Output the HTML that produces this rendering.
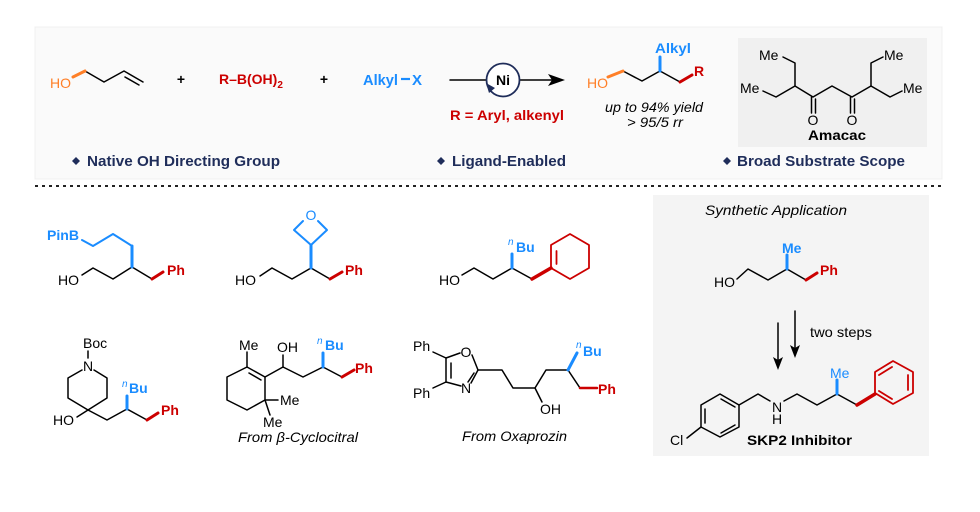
<!DOCTYPE html>
<html><head><meta charset="utf-8"><style>
html,body{margin:0;padding:0;background:#fff;}
svg{display:block;}
text{font-family:"Liberation Sans",Arial,sans-serif;}
</style></head><body>
<svg width="980" height="512" viewBox="0 0 980 512" xmlns="http://www.w3.org/2000/svg">
<rect x="0" y="0" width="980" height="512" fill="#fff"/>
<!-- top panel -->
<rect x="35" y="27" width="907" height="152" fill="#fafafa" stroke="#f0f0f0" stroke-width="1"/>
<rect x="738" y="38" width="189" height="109" fill="#f0f0f0"/>
<line x1="35" y1="186" x2="942" y2="186" stroke="#222" stroke-width="2" stroke-dasharray="3 4"/>
<!-- synthetic app box -->
<rect x="653" y="195" width="276" height="261" fill="#f4f4f4"/>

<g fill="none" stroke="#000" stroke-width="1.5" stroke-linejoin="round" stroke-linecap="round">
<!-- butenol -->
<polyline points="85,71 104,82 124,71 143,82"/>
<line x1="125" y1="77" x2="139" y2="85"/>
<!-- arrow -->
<line x1="450" y1="80" x2="487" y2="80"/>
<line x1="520" y1="80" x2="552" y2="80"/>
<!-- product -->
<polyline points="623,71 642,81 660,71 680,82"/>
<!-- amacac -->
<polyline points="783,57 795,63 795,86 776,97 763,91"/>
<polyline points="795,86 813,97 832,86 852,97 871,86 871,63 883,57"/>
<polyline points="871,86 890,97 902,91"/>
<line x1="811.5" y1="97" x2="811.5" y2="113"/>
<line x1="815.5" y1="99" x2="815.5" y2="113"/>
<line x1="850.5" y1="97" x2="850.5" y2="113"/>
<line x1="854.5" y1="99" x2="854.5" y2="113"/>
<!-- cpd1 -->
<polyline points="82,275 93,268 113,279 132,267 152,279"/>
<!-- cpd2 -->
<polyline points="260,276 272,268 292,279 311,268 330,279"/>
<!-- cpd3 -->
<polyline points="462,275 474,268 493,279 512,268 532,279"/>
<!-- cpd4 -->
<line x1="88" y1="351" x2="88" y2="358"/>
<polyline points="82,370 68,378 68,398 88,410 107,398 107,378 94,370"/>
<line x1="77" y1="417" x2="88" y2="410"/>
<polyline points="88,410 107,420 127,409 147,420"/>
<!-- cpd5 -->
<polygon points="247,367 265,377 265,400 247,410 227,400 227,377"/>
<line x1="249" y1="373" x2="261" y2="380"/>
<line x1="247" y1="352" x2="247" y2="367"/>
<line x1="265" y1="400" x2="278" y2="400"/>
<line x1="265" y1="400" x2="270" y2="415"/>
<polyline points="265,377 283,367 303,377 323,367 342,377"/>
<line x1="283" y1="367" x2="283" y2="355"/>
<!-- cpd6 oxaprozin -->
<line x1="433" y1="352" x2="446" y2="358"/>
<line x1="433" y1="388" x2="446" y2="382"/>
<polyline points="460,353 446,358 446,382 461,386"/>
<line x1="451" y1="363" x2="451" y2="378"/>
<polyline points="472,355 478,370 471,383"/>
<line x1="474" y1="373" x2="468" y2="382"/>
<polyline points="478,370 502,370 513,388 535,388 546,370 568,370 580,388"/>
<line x1="535" y1="388" x2="542" y2="402"/>
<!-- synthetic -->
<polyline points="737,279 748,269 768,280 787,269 806,280"/>
<line x1="795" y1="311" x2="795" y2="350"/>
<line x1="778" y1="323" x2="778" y2="362"/>
<!-- SKP2 -->
<polygon points="701,405 720,394 739,405 739,427 720,437 701,427"/>
<line x1="705" y1="409" x2="705" y2="423"/>
<line x1="721" y1="399" x2="735" y2="407"/>
<line x1="735" y1="425" x2="721" y2="433"/>
<line x1="687" y1="438" x2="701" y2="427"/>
<polyline points="739,405 758,394 770,401"/>
<polyline points="784,401 797,394 817,405 837,394 857,405"/>
</g>

<!-- colored bonds -->
<g fill="none" stroke-linecap="round" stroke-linejoin="round">
<line x1="73" y1="77" x2="85" y2="71" stroke="#ff7f27" stroke-width="3"/>
<line x1="608" y1="77" x2="623" y2="71" stroke="#ff7f27" stroke-width="3"/>
<line x1="660" y1="71" x2="660" y2="57" stroke="#1a8cff" stroke-width="3"/>
<line x1="680" y1="82" x2="692" y2="75" stroke="#cc0000" stroke-width="3"/>
<line x1="401" y1="79" x2="410" y2="79" stroke="#1a8cff" stroke-width="2.2" stroke-linecap="butt"/>
<!-- cpd1 -->
<polyline points="82,240 93,246 113,234 132,246" stroke="#1a8cff" stroke-width="2"/>
<line x1="132" y1="246" x2="132" y2="267" stroke="#1a8cff" stroke-width="3"/>
<line x1="152" y1="279" x2="163" y2="272" stroke="#cc0000" stroke-width="3"/>
<!-- cpd2 -->
<line x1="311" y1="268" x2="311" y2="245" stroke="#1a8cff" stroke-width="3"/>
<polyline points="303,221 294,230 311,245 327,230 318,221" stroke="#1a8cff" stroke-width="2"/>
<line x1="330" y1="279" x2="342" y2="272" stroke="#cc0000" stroke-width="3"/>
<!-- cpd3 -->
<line x1="512" y1="268" x2="512" y2="254" stroke="#1a8cff" stroke-width="3"/>
<line x1="532" y1="279" x2="551" y2="268" stroke="#cc0000" stroke-width="3.5"/>
<polygon points="551,268 551,245 570,234 589,245 589,268 570,279" stroke="#cc0000" stroke-width="1.8"/>
<line x1="556.5" y1="251" x2="556.5" y2="264" stroke="#cc0000" stroke-width="1.8"/>
<!-- cpd4 -->
<line x1="127" y1="409" x2="127" y2="396" stroke="#1a8cff" stroke-width="3"/>
<line x1="147" y1="420" x2="158" y2="413" stroke="#cc0000" stroke-width="3"/>
<!-- cpd5 -->
<line x1="323" y1="367" x2="323" y2="353" stroke="#1a8cff" stroke-width="3"/>
<line x1="342" y1="377" x2="354" y2="370" stroke="#cc0000" stroke-width="3"/>
<!-- cpd6 -->
<line x1="568" y1="370" x2="577" y2="353" stroke="#1a8cff" stroke-width="3"/>
<line x1="580" y1="388" x2="597" y2="388" stroke="#cc0000" stroke-width="2.5"/>
<!-- synthetic -->
<line x1="787" y1="269" x2="787" y2="255" stroke="#1a8cff" stroke-width="3"/>
<line x1="806" y1="280" x2="817" y2="273" stroke="#cc0000" stroke-width="3"/>
<line x1="837" y1="394" x2="837" y2="380" stroke="#1a8cff" stroke-width="3"/>
<line x1="857" y1="405" x2="875" y2="394" stroke="#cc0000" stroke-width="3.5"/>
<polygon points="875,393 875,372 893,361 913,372 913,393 893,404" stroke="#cc0000" stroke-width="1.8"/>
<line x1="879" y1="375" x2="892" y2="367" stroke="#cc0000" stroke-width="1.8"/>
<line x1="908" y1="375" x2="908" y2="390" stroke="#cc0000" stroke-width="1.8"/>
<line x1="892" y1="399" x2="879" y2="391" stroke="#cc0000" stroke-width="1.8"/>
</g>

<!-- Ni circle & arrowheads -->
<circle cx="503" cy="80" r="16.5" fill="#fff" stroke="#1f2d5a" stroke-width="1.8"/>
<polygon points="486,83 495,88 489,93" fill="#1f2d5a"/>
<polygon points="565,80 548,74 552,80 548,86" fill="#000"/>
<polygon points="795,358 790,345 795,348 800,345" fill="#000"/>
<polygon points="778,370 773,357 778,360 783,357" fill="#000"/>

<!-- diamonds -->
<g fill="#1f2d5a">
<polygon points="76,157 80,161 76,165 72,161"/>
<polygon points="441,157 445,161 441,165 437,161"/>
<polygon points="727,157 731,161 727,165 723,161"/>
</g>

<!-- top texts -->
<g font-size="14">
<text x="50" y="88" fill="#ff7f27">HO</text>
<text x="181" y="84" text-anchor="middle" font-weight="bold">+</text>
<text x="219" y="84" fill="#cc0000" font-weight="bold">R–B(OH)<tspan font-size="10" dy="4">2</tspan></text>
<text x="324" y="84" text-anchor="middle" font-weight="bold">+</text>
<text x="363" y="85" fill="#1a8cff" font-weight="bold" font-size="15" textLength="35" lengthAdjust="spacingAndGlyphs">Alkyl</text>
<text x="412" y="85" fill="#1a8cff" font-weight="bold" font-size="15">X</text>
<text x="503" y="85" text-anchor="middle" font-weight="bold" font-size="14">Ni</text>
<text x="450" y="120" fill="#cc0000" font-weight="bold" textLength="114" lengthAdjust="spacingAndGlyphs">R = Aryl, alkenyl</text>
<text x="587" y="88" fill="#ff7f27">HO</text>
<text x="655" y="53" fill="#1a8cff" font-weight="bold" textLength="36" lengthAdjust="spacingAndGlyphs">Alkyl</text>
<text x="694" y="76" fill="#cc0000" font-weight="bold">R</text>
<text x="605" y="112" font-style="italic" textLength="98" lengthAdjust="spacingAndGlyphs">up to 94% yield</text>
<text x="627" y="127" font-style="italic" textLength="56" lengthAdjust="spacingAndGlyphs">&gt; 95/5 rr</text>
<text x="759" y="60">Me</text>
<text x="740" y="93">Me</text>
<text x="813" y="125" text-anchor="middle">O</text>
<text x="852" y="125" text-anchor="middle">O</text>
<text x="884" y="60">Me</text>
<text x="903" y="93">Me</text>
<text x="808" y="140" font-weight="bold" textLength="58" lengthAdjust="spacingAndGlyphs">Amacac</text>
</g>
<g font-size="15" font-weight="bold" fill="#1f2d5a">
<text x="87" y="166" textLength="193" lengthAdjust="spacingAndGlyphs">Native OH Directing Group</text>
<text x="452" y="166" textLength="114" lengthAdjust="spacingAndGlyphs">Ligand-Enabled</text>
<text x="737" y="166" textLength="168" lengthAdjust="spacingAndGlyphs">Broad Substrate Scope</text>
</g>

<!-- bottom texts -->
<g font-size="14">
<!-- cpd1 -->
<text x="47" y="240" fill="#1a8cff" font-weight="bold" textLength="32" lengthAdjust="spacingAndGlyphs">PinB</text>
<text x="58" y="285">HO</text>
<text x="167" y="275" fill="#cc0000" font-weight="bold">Ph</text>
<!-- cpd2 -->
<text x="311" y="220" fill="#1a8cff" text-anchor="middle">O</text>
<text x="235" y="285">HO</text>
<text x="345" y="275" fill="#cc0000" font-weight="bold">Ph</text>
<!-- cpd3 -->
<text x="439" y="285">HO</text>
<text x="508" y="245" fill="#1a8cff" font-size="10" font-style="italic">n</text>
<text x="516" y="252" fill="#1a8cff" font-weight="bold">Bu</text>
<!-- cpd4 -->
<text x="83" y="348">Boc</text>
<text x="88" y="371" text-anchor="middle">N</text>
<text x="53" y="425">HO</text>
<text x="122" y="387" fill="#1a8cff" font-size="10" font-style="italic">n</text>
<text x="129" y="393" fill="#1a8cff" font-weight="bold">Bu</text>
<text x="161" y="415" fill="#cc0000" font-weight="bold">Ph</text>
<!-- cpd5 -->
<text x="239" y="350">Me</text>
<text x="277" y="352">OH</text>
<text x="317" y="344" fill="#1a8cff" font-size="10" font-style="italic">n</text>
<text x="325" y="350" fill="#1a8cff" font-weight="bold">Bu</text>
<text x="355" y="373" fill="#cc0000" font-weight="bold">Ph</text>
<text x="280" y="405">Me</text>
<text x="263" y="427">Me</text>
<text x="238" y="442" font-style="italic" textLength="120" lengthAdjust="spacingAndGlyphs">From β-Cyclocitral</text>
<!-- cpd6 -->
<text x="413" y="351">Ph</text>
<text x="466" y="357" text-anchor="middle">O</text>
<text x="466" y="393" text-anchor="middle">N</text>
<text x="413" y="398">Ph</text>
<text x="576" y="348" fill="#1a8cff" font-size="10" font-style="italic">n</text>
<text x="583" y="356" fill="#1a8cff" font-weight="bold">Bu</text>
<text x="540" y="414">OH</text>
<text x="598" y="394" fill="#cc0000" font-weight="bold">Ph</text>
<text x="462" y="441" font-style="italic" textLength="105" lengthAdjust="spacingAndGlyphs">From Oxaprozin</text>
<!-- synthetic -->
<text x="705" y="215" font-style="italic" textLength="142" lengthAdjust="spacingAndGlyphs">Synthetic Application</text>
<text x="714" y="287">HO</text>
<text x="782" y="253" fill="#1a8cff" font-weight="bold">Me</text>
<text x="820" y="275" fill="#cc0000" font-weight="bold">Ph</text>
<text x="810" y="337" textLength="62" lengthAdjust="spacingAndGlyphs">two steps</text>
<text x="670" y="445">Cl</text>
<text x="777" y="412" text-anchor="middle">N</text>
<text x="777" y="424" text-anchor="middle">H</text>
<text x="830" y="378" fill="#1a8cff">Me</text>
<text x="747" y="445" font-weight="bold" textLength="105" lengthAdjust="spacingAndGlyphs">SKP2 Inhibitor</text>
</g>
</svg>
</body></html>
